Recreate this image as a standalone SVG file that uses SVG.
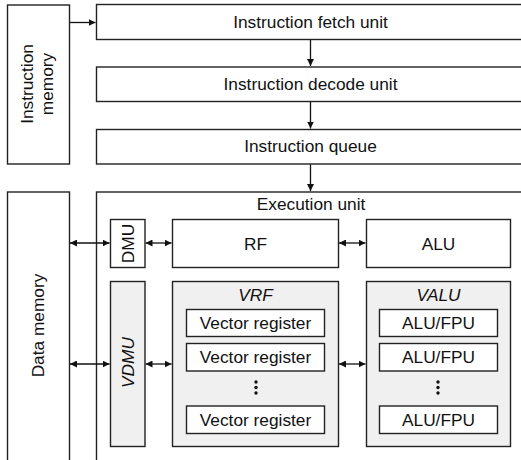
<svg xmlns="http://www.w3.org/2000/svg" width="521" height="460" viewBox="0 0 521 460">
<defs>
<style>
.b{fill:#fff;stroke:#222;stroke-width:1.4}
.g{fill:#f0f0f0;stroke:#222;stroke-width:1.4}
.t{font-family:"Liberation Sans",Arial,sans-serif;font-size:17.3px;fill:#111;text-anchor:middle}
.i{font-style:italic}
.c{stroke:#111;stroke-width:1.3;fill:none}
</style>
<marker id="ah" viewBox="0 0 10 10" refX="10" refY="5" markerWidth="7" markerHeight="7" markerUnits="userSpaceOnUse" orient="auto-start-reverse">
<path d="M0,0 L10,5 L0,10 z" fill="#111"/>
</marker>
</defs>
<rect width="521" height="460" fill="#fff"/>

<g id="imem">
<rect class="b" x="7.5" y="5" width="62" height="159"/>
<text class="t" transform="translate(32.5,84) rotate(-90)">Instruction</text>
<text class="t" transform="translate(52.5,84) rotate(-90)">memory</text>
</g>
<g id="fetch">
<rect class="b" x="96.5" y="4.5" width="440" height="35"/>
<text class="t" x="310.5" y="28">Instruction fetch unit</text>
</g>
<g id="decode">
<rect class="b" x="96.5" y="67" width="440" height="34.5"/>
<text class="t" x="310.5" y="90">Instruction decode unit</text>
</g>
<g id="queue">
<rect class="b" x="96.5" y="129.5" width="440" height="34.5"/>
<text class="t" x="310.5" y="152">Instruction queue</text>
</g>
<g id="dmem">
<rect class="b" x="7.5" y="192" width="62" height="290"/>
<text class="t" transform="translate(43.5,325.5) rotate(-90)">Data memory</text>
</g>
<g id="exec">
<rect class="b" x="96.5" y="192" width="440" height="290"/>
<text class="t" x="311" y="210">Execution unit</text>
</g>
<g id="dmu">
<rect class="b" x="110.5" y="219.5" width="34.5" height="48"/>
<text class="t" transform="translate(133.5,243.5) rotate(-90)">DMU</text>
</g>
<g id="rf">
<rect class="b" x="172.5" y="219.5" width="166" height="48"/>
<text class="t" x="255.5" y="249.5">RF</text>
</g>
<g id="alu">
<rect class="b" x="366.5" y="219.5" width="144" height="48"/>
<text class="t" x="438.5" y="249.5">ALU</text>
</g>
<g id="vdmu">
<rect class="g" x="110.5" y="281.5" width="34.5" height="165"/>
<text class="t i" transform="translate(133.5,362.5) rotate(-90)">VDMU</text>
</g>
<g id="vrf">
<rect class="g" x="172.5" y="281.5" width="166" height="165"/>
<text class="t i" x="255.5" y="301">VRF</text>
<rect class="b" x="186.5" y="309.5" width="138" height="27"/>
<text class="t" x="255.5" y="329">Vector register</text>
<rect class="b" x="186.5" y="343.5" width="138" height="27.5"/>
<text class="t" x="255.5" y="363">Vector register</text>
<circle cx="256" cy="382" r="1.7" fill="#111"/>
<circle cx="256" cy="387.5" r="1.7" fill="#111"/>
<circle cx="256" cy="393" r="1.7" fill="#111"/>
<rect class="b" x="186.5" y="406" width="138" height="27.5"/>
<text class="t" x="255.5" y="425.5">Vector register</text>
</g>
<g id="valu">
<rect class="g" x="366.5" y="281.5" width="144" height="165"/>
<text class="t i" x="438.5" y="301">VALU</text>
<rect class="b" x="379.5" y="309.5" width="118" height="27"/>
<text class="t" x="438.5" y="329">ALU/FPU</text>
<rect class="b" x="379.5" y="343.5" width="118" height="27.5"/>
<text class="t" x="438.5" y="363">ALU/FPU</text>
<circle cx="438" cy="382" r="1.7" fill="#111"/>
<circle cx="438" cy="387.5" r="1.7" fill="#111"/>
<circle cx="438" cy="393" r="1.7" fill="#111"/>
<rect class="b" x="379.5" y="406" width="118" height="27.5"/>
<text class="t" x="438.5" y="425.5">ALU/FPU</text>
</g>

<g id="connectors">
<path class="c" d="M70,22.5 H95.5" marker-end="url(#ah)"/>
<path class="c" d="M310.5,40 V66" marker-end="url(#ah)"/>
<path class="c" d="M310.5,102 V128.5" marker-end="url(#ah)"/>
<path class="c" d="M310.5,164.5 V191" marker-end="url(#ah)"/>
<path class="c" d="M70,243 H109.5" marker-start="url(#ah)" marker-end="url(#ah)"/>
<path class="c" d="M145.5,243 H171.5" marker-start="url(#ah)" marker-end="url(#ah)"/>
<path class="c" d="M339,243 H365.5" marker-start="url(#ah)" marker-end="url(#ah)"/>
<path class="c" d="M70,364 H109.5" marker-start="url(#ah)" marker-end="url(#ah)"/>
<path class="c" d="M145.5,364 H171.5" marker-start="url(#ah)" marker-end="url(#ah)"/>
<path class="c" d="M339,364 H365.5" marker-start="url(#ah)" marker-end="url(#ah)"/>
</g>
</svg>
